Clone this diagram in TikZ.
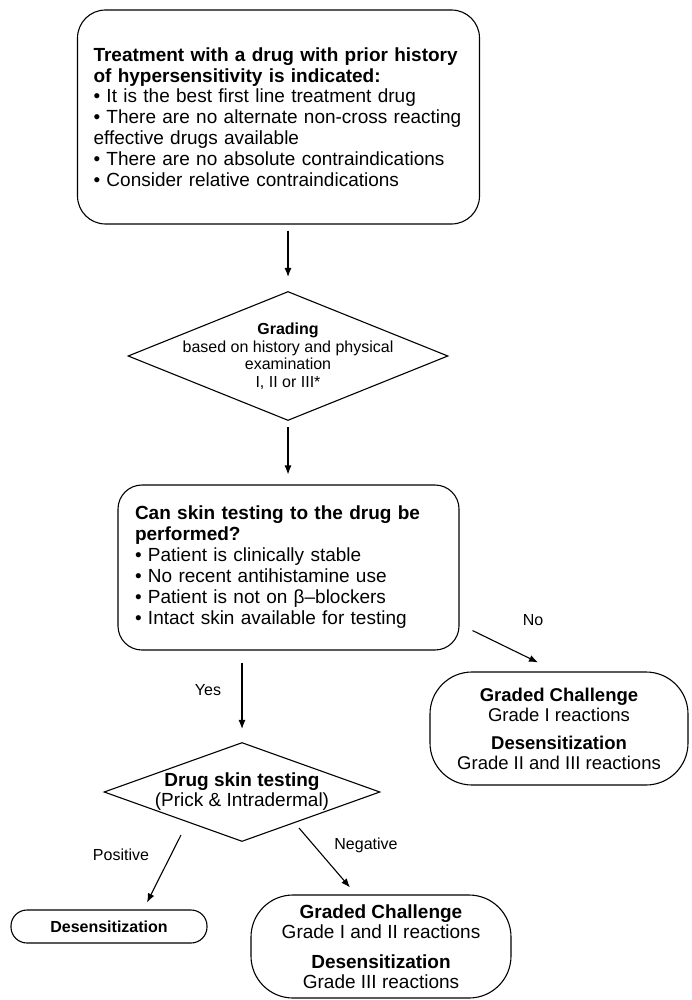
\documentclass[tikz,border=0pt]{standalone}
\usepackage{fontspec}
\setmainfont{Liberation Sans}
\usetikzlibrary{shapes,arrows.meta,positioning}

\tikzset{
	box/.style={draw, line width=1.1pt, rounded corners=28pt, align=left},
	decision/.style={draw, line width=1.1pt, diamond, aspect=2.5, inner sep=-20pt, align=center},
	outcome/.style={draw, line width=1.1pt, rounded corners=42pt, align=center},
	lbl/.style={inner sep=0pt, font=\fontsize{16}{18}\selectfont},
	>={Latex[length=9pt,width=7pt]}
}

\begin{document}
\begin{tikzpicture}[x=1pt,y=-1pt]
			\useasboundingbox (0,0) rectangle (691,1000);
			\node[box, text width=370pt, inner xsep=16pt, minimum height=214pt, font=\fontsize{19}{20.8}\selectfont] (indication) at (278.5,117) {\textbf{Treatment with a drug with prior history}\\\textbf{of hypersensitivity is indicated:}\\• It is the best first line treatment drug\\• There are no alternate non-cross reacting\\effective drugs available\\• There are no absolute contraindications\\• Consider relative contraindications};
			\node[decision, minimum width=320pt, minimum height=129pt, font=\fontsize{16}{17.5}\selectfont] (grading) at (288,356) {\textbf{Grading}\\based on history and physical\\examination\\I, II or III*};
			\node[box, rounded corners=24pt, text width=307pt, inner xsep=17pt, minimum height=165pt, font=\fontsize{19}{21}\selectfont] (skincheck) at (288.5,567.5) {\textbf{Can skin testing to the drug be}\\\textbf{performed?}\\• Patient is clinically stable\\• No recent antihistamine use\\• Patient is not on β–blockers\\• Intact skin available for testing};
			\node[outcome, minimum width=258pt, minimum height=113pt, font=\fontsize{18.5}{20}\selectfont] (challenge) at (559,728.5) {\textbf{Graded Challenge}\\Grade I reactions\\[8pt]\textbf{Desensitization}\\Grade II and III reactions};
			\node[decision, minimum width=276pt, minimum height=99pt, font=\fontsize{19}{20}\selectfont] (skintest) at (242,792) {\textbf{Drug skin testing}\\(Prick \& Intradermal)};
			\node[outcome, rounded corners=16pt, minimum width=196pt, minimum height=33pt, font=\bfseries\fontsize{16}{18}\selectfont] (desens) at (109,926.5) {Desensitization};
			\node[outcome, minimum width=260pt, minimum height=103pt, font=\fontsize{19}{20}\selectfont] (challengeneg) at (381,946.5) {\textbf{Graded Challenge}\\Grade I and II reactions\\[10pt]\textbf{Desensitization}\\Grade III reactions};
			
			\node[lbl] (no) at (533,620) {No};
			\node[lbl] (yes) at (208,690) {Yes};
			\node[lbl] (pos) at (121,855) {Positive};
			\node[lbl] (neg) at (366,845) {Negative};
			
			\draw[->, line width=1.1pt, shorten <=6pt, shorten >=14pt] (grading.north |- indication.south) -- (grading.north);
			\draw[->, line width=1.1pt, shorten <=6pt, shorten >=10pt] (grading.south) -- (grading.south |- skincheck.north);
			\draw[->, line width=1.1pt, shorten <=12pt, shorten >=13pt] (skintest.north |- skincheck.south) -- (skintest.north);
			\draw[->, line width=1.1pt] ([shift={(13,-20)}]skincheck.south east) -- ([shift={(-21,-9)}]challenge.north);
			\draw[->, line width=1.1pt] ([shift={(-61,43)}]skintest.center) -- ([shift={(38,-7)}]desens.north);
			\draw[->, line width=1.1pt] ([shift={(57,36)}]skintest.center) -- ([shift={(-31,-7)}]challengeneg.north);
\end{tikzpicture}
\end{document}
